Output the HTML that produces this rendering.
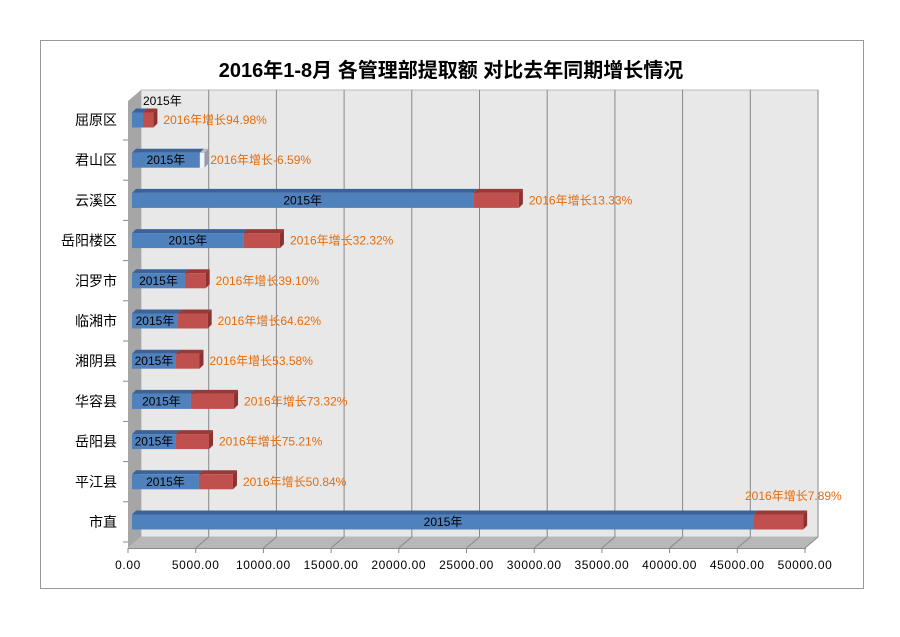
<!DOCTYPE html>
<html><head><meta charset="utf-8"><style>
body{margin:0;background:#fff;}
svg{display:block;font-family:"Liberation Sans","Noto Sans CJK SC",sans-serif;}
</style></head><body>
<svg id="chart" width="900" height="637" viewBox="0 0 900 637" xmlns="http://www.w3.org/2000/svg">
<rect x="40.5" y="40.5" width="823" height="548" fill="#fff" stroke="#999"/>
<text x="451" y="77" text-anchor="middle" font-size="20" font-weight="bold" fill="#000">2016年1-8月 各管理部提取额 对比去年同期增长情况</text>
<g id="walls"></g>
<g id="bars"></g>
<g id="axis"></g>
</svg>
<script>
const categories = ["屈原区","君山区","云溪区","岳阳楼区","汨罗市","临湘市","湘阴县","华容县","岳阳县","平江县","市直"];
const base2015 = [817,5050,25400,8320,3940,3420,3270,4380,3270,4980,46285];
const growthPct = [94.98,-6.59,13.33,32.32,39.10,64.62,53.58,73.32,75.21,50.84,7.89];
const tickValues = [0,5000,10000,15000,20000,25000,30000,35000,40000,45000,50000];
const tickLabels = ["0.00","5000.00","10000.00","15000.00","20000.00","25000.00","30000.00","35000.00","40000.00","45000.00","50000.00"];

const NS="http://www.w3.org/2000/svg";
function mk(parent,tag,attrs,txt){const e=document.createElementNS(NS,tag);for(const k in attrs)e.setAttribute(k,attrs[k]);if(txt!==undefined)e.textContent=txt;parent.appendChild(e);return e;}
const tickX=v=>128+v*(677/50000);
const barX=v=>132+v*(672/50000);
const rowY=i=>120+i*40.2;
const D=13;
const walls=document.getElementById('walls');
let e=mk(walls,'rect',{x:141,y:90,width:677,height:447,fill:'#e8e8e8',stroke:'#bbb'});

e=mk(walls,'polygon',{points:`128,101 141,90 141,537 128,548`,fill:'#a6a6a6'});

e=mk(walls,'polygon',{points:`128,548 141,537 818,537 805,548`,fill:'#b8b8b8'});

tickValues.forEach((v,i)=>{
  const x=tickX(v);
  if(i>0){const g=mk(walls,'line',{x1:x+D,y1:90,x2:x+D,y2:537,stroke:'#888','stroke-width':1});
  
  const f=mk(walls,'line',{x1:x,y1:548,x2:x+D,y2:537,stroke:'#888'});
  }
});
const axis=document.getElementById('axis');
e=mk(axis,'line',{x1:128,y1:548.5,x2:806,y2:548.5,stroke:'#888'});

tickValues.forEach((v,i)=>{
  const x=tickX(v);
  const t=mk(axis,'line',{x1:x,y1:548,x2:x,y2:553,stroke:'#888'});
  
  const l=mk(axis,'text',{x:x,y:569,'text-anchor':'middle','font-size':12,'letter-spacing':'0.6',fill:'#000'},tickLabels[i]);
  
});
const bars=document.getElementById('bars');
function box(x0,x1,yc,front,top,side,name){
  const h=15,d=4,y0=yc-h/2;
  const g=mk(bars,'g',{});
  
  mk(g,'polygon',{points:`${x0},${y0} ${x0+d},${y0-d} ${x1+d},${y0-d} ${x1},${y0}`,fill:top});
  mk(g,'polygon',{points:`${x1},${y0} ${x1+d},${y0-d} ${x1+d},${y0+h-d} ${x1},${y0+h}`,fill:side});
  mk(g,'rect',{x:x0,y:y0,width:Math.max(x1-x0,0),height:h,fill:front});
}
categories.forEach((c,i)=>{
  const y=rowY(i);
  const b=base2015[i], inc=b*growthPct[i]/100;
  const xb=barX(b);
  const cl=mk(axis,'text',{x:117,y:y+5,'text-anchor':'end','font-size':14,fill:'#000'},c);
  
  const ct=mk(axis,'line',{x1:123,y1:y+20,x2:128,y2:y+20,stroke:'#888'});
  
  box(barX(0),xb,y,'#4f81bd','#3a639a','#375f92','bar-2015');
  let xe;
  if(inc>=0){xe=barX(b+inc);box(xb,xe,y,'#c0504d','#9a3a38','#8c3331','bar-growth');}
  else{xe=xb+(barX(-inc)-barX(0));box(xb,xe,y,'#f2f2ff','#bbbbcc','#9999aa','bar-growth');}
  let lx,ly,anchor='middle';
  if(xb-132<30){lx=143;ly=y-15;anchor='start';}else{lx=(132+xb)/2;ly=y+4;}
  const bl=mk(bars,'text',{x:lx,y:ly,'text-anchor':anchor,'font-size':12,fill:'#000'},'2015年');
  
  let gx=xe+(inc>=0?10:6),gy=y+4;
  if(i===categories.length-1){gx=745;gy=y-22;}
  const gl=mk(bars,'text',{x:gx,y:gy,'text-anchor':'start','font-size':12,fill:'#e46c0a'},'2016年增长'+growthPct[i].toFixed(2)+'%');
  
});
</script>
</body></html>
